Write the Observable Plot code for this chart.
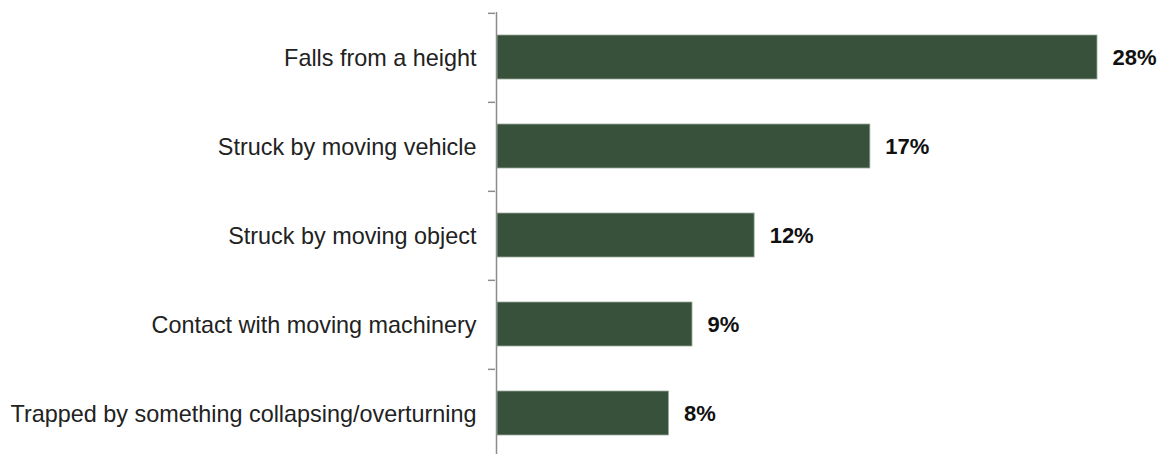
<!DOCTYPE html>
<html>
<head>
<meta charset="utf-8">
<script src="https://cdn.jsdelivr.net/npm/d3@7"></script>
<script src="https://cdn.jsdelivr.net/npm/@observablehq/plot@0.6"></script>
<style>
  html, body { margin: 0; padding: 0; background: #fff; }
  svg { font-family: "Liberation Sans", Arial, sans-serif; }
</style>
</head>
<body>
<div id="chart"></div>
<script>
const categories = [
  "Falls from a height",
  "Struck by moving vehicle",
  "Struck by moving object",
  "Contact with moving machinery",
  "Trapped by something collapsing/overturning"
];
const values = [28, 17.4, 12, 9.1, 8];
const valueLabels = ["28%", "17%", "12%", "9%", "8%"];

const data = categories.map((c, i) => ({cat: c, value: values[i], label: valueLabels[i]}));
const band = (458.6 - 12) / categories.length;

const chart = Plot.plot({
  width: 1159,
  height: 454,
  marginTop: 12,
  marginBottom: 0,
  marginLeft: 496,
  marginRight: 62,
  style: {fontFamily: "'Liberation Sans', Arial, sans-serif", background: "#fff"},
  x: {domain: [0, 28], range: [497, 1097], axis: null},
  y: {domain: categories, range: [12, 458.6], padding: 0, axis: null},
  marks: [
    Plot.barX(data, {
      x: "value", y: "cat",
      fill: "#37513a", stroke: "#9aaa9c", strokeWidth: 0.8,
      insetTop: 22, insetBottom: 23
    }),
    Plot.ruleX([0], {dx: -1, stroke: "#8c8c8c", strokeWidth: 1.5}),
    Plot.axisY({
      anchor: "left", tickSize: 7, tickFormat: () => "", dy: -band / 2, dx: -1,
      stroke: "#8c8c8c", strokeWidth: 1.5, label: null
    }),
    Plot.axisY({
      anchor: "left", tickSize: 0, tickPadding: 20, label: null,
      fontSize: 23.4, fill: "#222"
    }),
    Plot.text(data, {
      x: "value", y: "cat", text: "label",
      dx: 15, textAnchor: "start", fontWeight: "bold", fontSize: 22, fill: "#111"
    })
  ]
});
document.getElementById("chart").appendChild(chart);
</script>
</body>
</html>
